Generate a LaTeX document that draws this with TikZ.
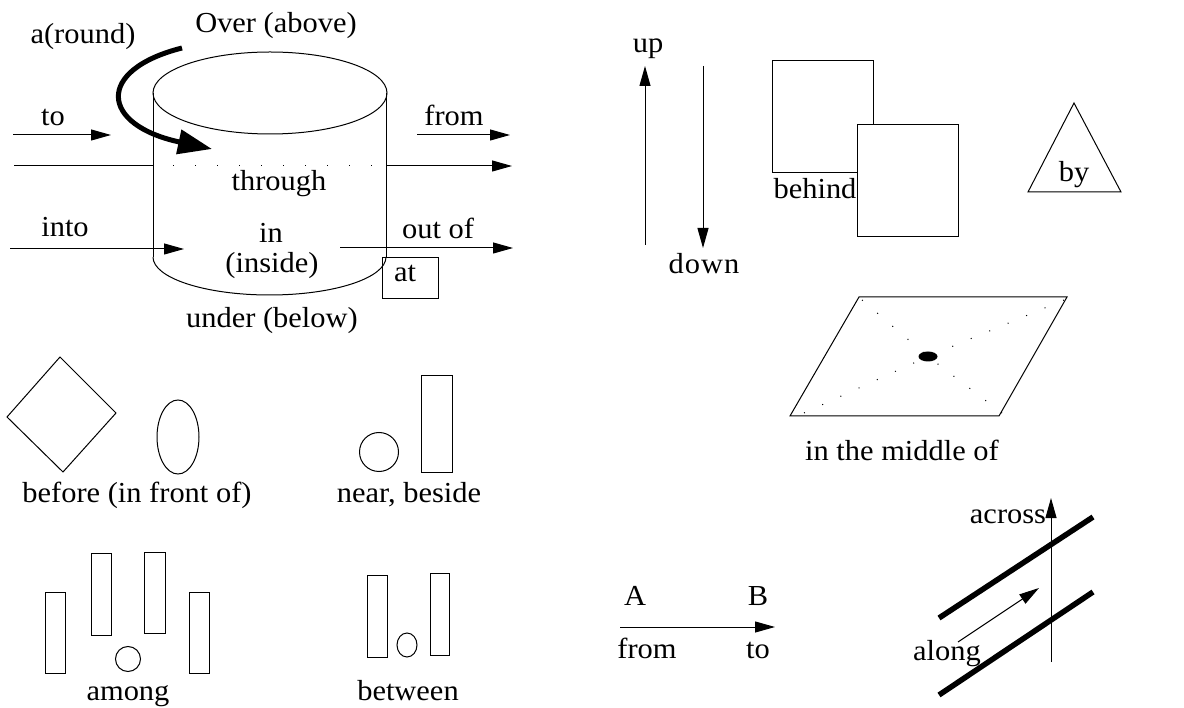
\documentclass[tikz,border=0pt]{standalone}
\usepackage{fontspec}
\setmainfont[FakeStretch=1.05]{Liberation Serif}
\usetikzlibrary{arrows.meta}
\begin{document}
\begin{tikzpicture}[x=1pt,y=-1pt,
  lbl/.style={font=\fontsize{29}{32}\selectfont, inner sep=0pt, anchor=base},
  thin/.style={line width=1pt},
  arr/.style={thin, -{Triangle[length=20pt,width=11pt]}},
  bigarr/.style={line width=5pt, -{Triangle[length=34pt,width=24pt]}},
  band/.style={line width=5.5pt},
  dots/.style={line width=1pt, dash pattern=on 1pt off 21pt},
  sdots/.style={line width=1pt, dash pattern=on 1pt off 19pt}]
\useasboundingbox (0,0) rectangle (1184,708);

% ---------------- cylinder ----------------
\draw[thin] (270,93) ellipse [x radius=117, y radius=41];
\draw[thin] (153,93) -- (153,257);
\draw[thin] (386,93) -- (386,257);
\draw[thin] (153,257) arc [start angle=180, end angle=0, x radius=116.5, y radius=38];

% a(round)
\coordinate (ar1) at (182,48);
\coordinate (ar2) at (212,149);
\draw[bigarr] (ar1) .. controls (95,70) and (100,125) .. (ar2);
\node[lbl] (around) at (83,44) {a(round)};
\node[lbl] (over) at (276,33) {Over (above)};

% to
\coordinate (to1) at (13,135); \coordinate (to2) at (111,135);
\draw[arr] (to1) -- (to2);
\node[lbl] (tolab) at (53,126) {to};

% through
\coordinate (th1) at (14,166); \coordinate (th2) at (153,166);
\coordinate (th3) at (386,166); \coordinate (th4) at (512,166);
\draw[thin] (th1) -- (th2);
\draw[dots] ([xshift=20pt]th2) -- (th3);
\draw[arr] (th3) -- (th4);
\node[lbl] (through) at (279,191) {through};

% from (top)
\coordinate (fr1) at (417,135); \coordinate (fr2) at (510,135);
\draw[arr] (fr1) -- (fr2);
\node[lbl] (fromlab) at (454,126) {from};

% into
\coordinate (in1) at (10,249); \coordinate (in2) at (184,249);
\draw[arr] (in1) -- (in2);
\node[lbl] (into) at (65,237) {into};

\node[lbl] (inlab) at (271,243) {in};
\node[lbl] (inside) at (272,273) {(inside)};

% out of
\coordinate (ou1) at (340,248); \coordinate (ou2) at (513,248);
\draw[arr] (ou1) -- (ou2);
\node[lbl] (outof) at (438,239) {out of};

% at
\node[draw, thin, minimum width=56pt, minimum height=41pt, inner sep=0pt] (atbox) at (410,278.5) {};
\node[lbl] (at) at (405,282) {at};

\node[lbl] (under) at (272,328) {under (below)};

% ---------------- up / down ----------------
\coordinate (u1) at (645,245); \coordinate (u2) at (645,66);
\draw[arr] (u1) -- (u2);
\node[lbl] (up) at (648,53) {up};
\coordinate (d1) at (703,66); \coordinate (d2) at (703,248);
\draw[arr] (d1) -- (d2);
\node[lbl] (down) at (704,274) {d\kern1pt o\kern1pt w\kern1pt n};

% ---------------- behind ----------------
\draw[thin] (772,61) rectangle (873,173);
\draw[thin, fill=white] (857,125) rectangle (958,237);
\node[lbl] (behind) at (815,199) {behind};

% ---------------- by ----------------
\draw[thin] (1074,103) -- (1121,192) -- (1028,192) -- cycle;
\node[lbl] (by) at (1074,182) {by};

% ---------------- in the middle of ----------------
\coordinate (pTL) at (859,297); \coordinate (pTR) at (1067,297);
\coordinate (pBR) at (999,416); \coordinate (pBL) at (790,416);
\coordinate (pC) at (928,356.5);
\draw[thin] (pTL) -- (pTR) -- (pBR) -- (pBL) -- cycle;
\draw[sdots] ([shift={(3,3)}]pTL) -- (pC);
\draw[sdots] ([shift={(-3,3)}]pTR) -- (pC);
\draw[sdots] ([shift={(3,-3)}]pBR) -- (pC);
\draw[sdots] ([shift={(14,-3)}]pBL) -- (pC);
\fill (pC) ellipse [x radius=9.5, y radius=5];
\node[lbl] (middle) at (902,461) {in the middle of};

% ---------------- before ----------------
\draw[thin] (60,357) -- (116,413) -- (63,472) -- (7,417) -- cycle;
\draw[thin] (178,437) ellipse [x radius=21, y radius=37];
\node[lbl] (before) at (137,502) {before (in front of)};

% ---------------- near, beside ----------------
\draw[thin] (379,452) circle [radius=19.5];
\draw[thin] (421,376) rectangle (452,473);
\node[lbl] (near) at (409,502) {near, beside};

% ---------------- among ----------------
\draw[thin] (45,592) rectangle (65,673);
\draw[thin] (91,553) rectangle (111,635);
\draw[thin] (144,552) rectangle (165,633);
\draw[thin] (189,592) rectangle (209,673);
\draw[thin] (128,659) circle [radius=12.5];
\node[lbl] (among) at (128,700) {among};

% ---------------- between ----------------
\draw[thin] (367,575) rectangle (387,657);
\draw[thin] (430,573) rectangle (449,655);
\draw[thin] (407,645) ellipse [x radius=10, y radius=12];
\node[lbl] (between) at (408,700) {between};

% ---------------- A to B ----------------
\node[lbl] (A) at (635,605) {A};
\node[lbl] (B) at (758,605) {B};
\coordinate (ab1) at (620,627); \coordinate (ab2) at (775,627);
\draw[arr] (ab1) -- (ab2);
\node[lbl] (from2) at (647,658) {from};
\node[lbl] (to2) at (758,658) {to};

% ---------------- along / across ----------------
\coordinate (b1a) at (939,618); \coordinate (b1b) at (1093,517);
\coordinate (b2a) at (939,695); \coordinate (b2b) at (1093,592);
\draw[band] (b1a) -- (b1b);
\draw[band] (b2a) -- (b2b);
\coordinate (ac1) at (1051,662); \coordinate (ac2) at (1051,498);
\draw[arr] (ac1) -- (ac2);
\node[lbl] (across) at (1008,523) {across};
\coordinate (al1) at (958,642); \coordinate (al2) at (1039,588);
\draw[arr] (al1) -- (al2);
\node[lbl] (along) at (947,660) {along};
\end{tikzpicture}
\end{document}
